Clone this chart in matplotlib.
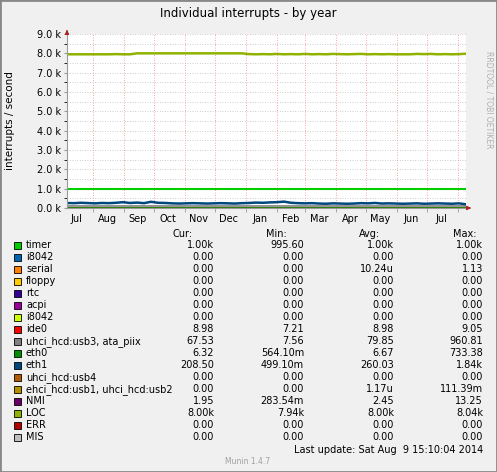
import matplotlib
matplotlib.use("Agg")
import matplotlib.pyplot as plt
import matplotlib.dates as mdates
import numpy as np
import datetime as dt

start = dt.date(2013, 7, 6)
dates = [start + dt.timedelta(days=7 * i) for i in range(58)]
dates[-1] = dt.date(2014, 8, 9)

loc = [7950, 7950, 7950, 7950, 7950, 7950, 7950, 7960, 7950, 7950, 8000, 8000, 8000, 8000, 8000,
       8000, 8000, 8000, 8000, 8000, 8000, 8000, 8000, 8000, 8000, 8000, 7960, 7950, 7960, 7950,
       7970, 7950, 7960, 7950, 7970, 7950, 7960, 7950, 7970, 7960, 7950, 7960, 7970, 7950, 7960,
       7950, 7960, 7950, 7950, 7950, 7970, 7960, 7970, 7950, 7960, 7950, 7960, 7980]
timer = [1000] * 58
eth1 = [260, 250, 270, 255, 240, 260, 250, 270, 300, 260, 280, 250, 320, 270, 260, 240, 230, 240,
        250, 240, 230, 240, 250, 240, 230, 250, 260, 280, 270, 290, 300, 330, 270, 250, 240, 250,
        230, 220, 240, 230, 220, 230, 250, 240, 260, 230, 240, 230, 220, 230, 240, 220, 230, 240,
        230, 220, 240, 190]
uhci = [80] * 58
ide0 = [9] * 58
eth0 = [7] * 58

names = ["timer", "i8042", "serial", "floppy", "rtc", "acpi", "i8042", "ide0",
         "uhci_hcd:usb3, ata_piix", "eth0", "eth1", "uhci_hcd:usb4",
         "ehci_hcd:usb1, uhci_hcd:usb2", "NMI", "LOC", "ERR", "MIS"]
colors = ["#00cc00", "#0066b3", "#ff8000", "#ffcc00", "#330099", "#990099", "#ccff00", "#ff0000",
          "#808080", "#008f00", "#00487d", "#b35a00", "#b38f00", "#6b006b", "#8fb300", "#b30000",
          "#bebebe"]
cur = ["1.00k", "0.00", "0.00", "0.00", "0.00", "0.00", "0.00", "8.98", "67.53", "6.32", "208.50",
       "0.00", "0.00", "1.95", "8.00k", "0.00", "0.00"]
mn = ["995.60", "0.00", "0.00", "0.00", "0.00", "0.00", "0.00", "7.21", "7.56", "564.10m", "499.10m",
      "0.00", "0.00", "283.54m", "7.94k", "0.00", "0.00"]
avg = ["1.00k", "0.00", "10.24u", "0.00", "0.00", "0.00", "0.00", "8.98", "79.85", "6.67", "260.03",
       "0.00", "1.17u", "2.45", "8.00k", "0.00", "0.00"]
mx = ["1.00k", "0.00", "1.13", "0.00", "0.00", "0.00", "0.00", "9.05", "960.81", "733.38", "1.84k",
      "0.00", "111.39m", "13.25", "8.04k", "0.00", "0.00"]

W, H = 497, 472
fig = plt.figure(figsize=(W / 100, H / 100), dpi=100, facecolor="#f0f0f0")
plt.rcParams["font.family"] = "DejaVu Sans"
ax = fig.add_axes([67 / W, 1 - 208 / H, 399 / W, 174 / H])
ax.set_facecolor("white")

ax.plot(dates, ide0, color=colors[7], lw=1.2)
ax.plot(dates, uhci, color=colors[8], lw=1.2)
ax.plot(dates, eth0, color=colors[9], lw=1.2)
ax.plot(dates, timer, color=colors[0], lw=1.5)
ax.plot(dates, eth1, color=colors[10], lw=1.8)
ax.plot(dates, loc, color=colors[14], lw=1.8)

ax.set_xlim(start, dt.date(2014, 8, 9))
ax.set_ylim(0, 9000)
ax.set_yticks(np.arange(0, 9001, 1000))
ax.set_yticklabels([f"{v/1000:.1f} k" for v in range(0, 9001, 1000)], fontsize=7)
ax.set_yticks(np.arange(500, 9000, 1000), minor=True)
ax.yaxis.grid(True, which="both", color="#bbbbbb", ls=(0, (1, 2)), lw=0.6)
ax.xaxis.set_major_locator(mdates.MonthLocator(bymonthday=15))
ax.xaxis.set_major_formatter(mdates.DateFormatter("%b"))
ax.xaxis.set_minor_locator(mdates.MonthLocator(bymonthday=1))
ax.xaxis.grid(True, which="minor", color="#ff8080", ls=(0, (1, 2)), lw=0.6)
ax.tick_params(axis="x", which="major", length=0, labelsize=7, pad=4)
ax.tick_params(axis="x", which="minor", length=3, color="#999999")
ax.tick_params(axis="y", length=2, labelsize=7, pad=2, color="#999999")
for s in ["top", "right"]:
    ax.spines[s].set_visible(False)
for s in ["left", "bottom"]:
    ax.spines[s].set_color("#999999")
ax.set_ylabel("interrupts / second", fontsize=7.5)
ax.yaxis.set_label_coords(-0.13, 0.5)
ax.annotate("", xy=(1.02, 0), xytext=(1.0, 0), xycoords="axes fraction",
            arrowprops=dict(arrowstyle="-|>", color="#aa2222", lw=0.8, mutation_scale=6))
ax.annotate("", xy=(0, 1.04), xytext=(0, 1.0), xycoords="axes fraction",
            arrowprops=dict(arrowstyle="-|>", color="#aa2222", lw=0.8, mutation_scale=6))

fig.text(248 / W, 1 - 13 / H, "Individual interrupts - by year", ha="center", va="center", fontsize=8.5)
fig.text(489 / W, 1 - 100 / H, "RRDTOOL / TOBI OETIKER", rotation=270, ha="center", va="center",
         fontsize=5.5, color="#b0b0b0")

def px(x, y):
    return x / W, 1 - y / H

fs = 7
for lbl, x in zip(["Cur:", "Min:", "Avg:", "Max:"], [193, 287, 380, 476]):
    fig.text(*px(x, 234), lbl, ha="right", va="center", fontsize=fs)
for i, n in enumerate(names):
    y = 245.5 + i * 12
    fig.patches.append(plt.Rectangle(px(14, y + 3.5), 7 / W, 7 / H, transform=fig.transFigure,
                                     facecolor=colors[i], edgecolor="black", lw=0.6))
    fig.text(*px(26, y), n, ha="left", va="center", fontsize=fs)
    for vals, x in zip([cur, mn, avg, mx], [214, 304, 394, 483]):
        fig.text(*px(x, y), vals[i], ha="right", va="center", fontsize=fs)

fig.text(*px(483, 450), "Last update: Sat Aug  9 15:10:04 2014", ha="right", va="center", fontsize=fs)
fig.text(*px(248, 462), "Munin 1.4.7", ha="center", va="center", fontsize=5.5, color="#a0a0a0")
fig.patches.append(plt.Rectangle((0, 0), 1, 1, transform=fig.transFigure, fill=False,
                                 edgecolor="#888888", lw=2))
fig.savefig("out.png", dpi=100, facecolor=fig.get_facecolor())
